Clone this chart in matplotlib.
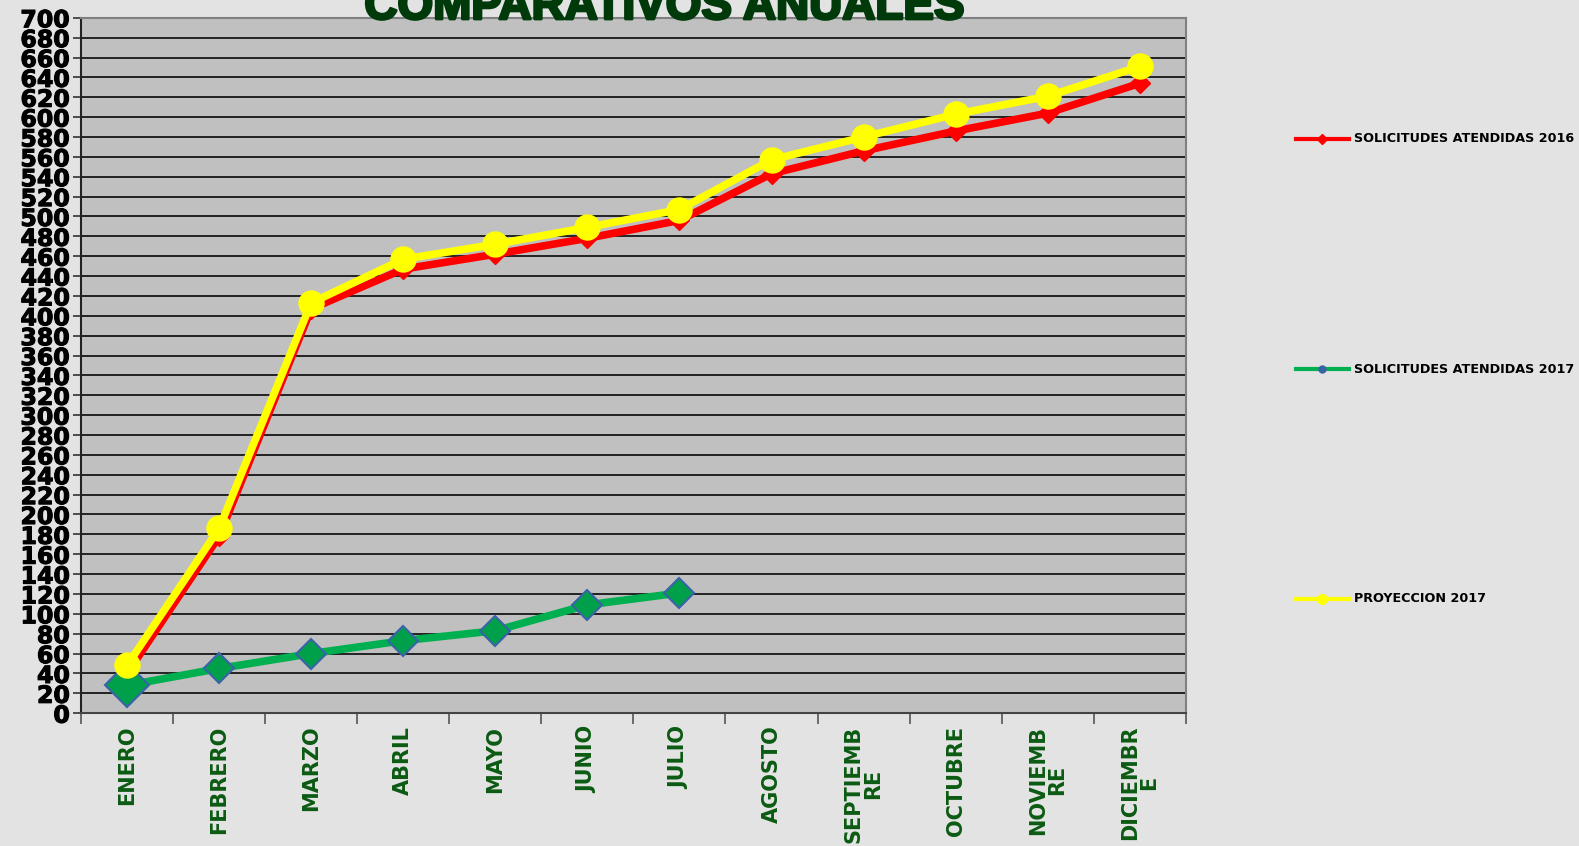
import numpy as np
import matplotlib
matplotlib.use("Agg")
import matplotlib.pyplot as plt
from matplotlib.lines import Line2D
import matplotlib.patheffects as pe

# Monthly data
meses = ["ENERO", "FEBRERO", "MARZO", "ABRIL", "MAYO", "JUNIO", "JULIO",
         "AGOSTO", "SEPTIEMB\nRE", "OCTUBRE", "NOVIEMB\nRE", "DICIEMBR\nE"]
atendidas_2016 = [40, 178, 407, 447, 462, 478, 496, 543, 566, 586, 604, 634]
atendidas_2017 = [28, 45, 60, 73, 83, 109, 121]
proyeccion_2017 = [48, 186, 413, 457, 472, 489, 507, 557, 580, 603, 621, 651]

serie_nombres = ["SOLICITUDES ATENDIDAS 2016", "SOLICITUDES ATENDIDAS 2017", "PROYECCION 2017"]
y_ticks = list(range(0, 701, 20))

fig = plt.figure(figsize=(15.79, 8.46), dpi=100)
fig.patch.set_facecolor("#e3e3e3")
ax = fig.add_axes([0.0513, 0.157, 0.6997, 0.822])
ax.set_facecolor("#c0c0c0")

x = np.arange(len(meses))
ax.plot(x, atendidas_2016, color="#ff0000", lw=5.5, marker="D", ms=10,
        mfc="#ff0000", mec="#ff0000", zorder=3)
x17 = np.arange(len(atendidas_2017))
ax.plot(x17, atendidas_2017, color="#00b050", lw=5.5, marker="D", ms=15,
        mfc="#00a04a", mec="#3a62a8", mew=1.5, zorder=4)
# first 2017 marker is drawn bigger in the original
ax.plot(x17[:1], atendidas_2017[:1], ls="none", marker="D", ms=22,
        mfc="#00a04a", mec="#3a62a8", mew=1.5, zorder=4)
ax.plot(x, proyeccion_2017, color="#ffff00", lw=5.5, marker="o", ms=18,
        mfc="#ffff00", mec="#ffff00", zorder=5)

ax.set_xlim(-0.5, len(meses) - 0.5)
ax.set_ylim(0, 700)
ax.set_yticks(y_ticks)
ax.set_yticklabels([str(v) for v in y_ticks], fontsize=17, fontweight="bold",
                   family="DejaVu Sans")
for t in ax.get_yticklabels():
    t.set_path_effects([pe.withStroke(linewidth=0.8, foreground="black")])
ax.yaxis.grid(True, color="#222222", lw=1.4)
ax.set_axisbelow(True)
ax.tick_params(axis="y", length=6, width=1.2, pad=2, color="#333333")

ax.set_xticks(x)
ax.set_xticklabels(meses, rotation=90, fontsize=15, fontweight="bold",
                   color="#0b5a12", family="DejaVu Sans", linespacing=0.95)
ax.set_xticks(np.arange(-0.5, len(meses), 1), minor=True)
ax.tick_params(axis="x", which="major", length=0, pad=9)
ax.tick_params(axis="x", which="minor", length=8, width=1.2, color="#555555")

for s in ax.spines.values():
    s.set_color("#808080")
    s.set_linewidth(1.5)
ax.spines["left"].set_color("#222222")
ax.spines["bottom"].set_color("#444444")

fig.text(0.421, 1 - 19 / 846, "COMPARATIVOS ANUALES", ha="center", va="baseline",
         fontsize=33, fontweight="bold", color="#003a0a", family="Liberation Sans",
         path_effects=[pe.withStroke(linewidth=2, foreground="#003a0a")])

# legend on the right, spread out like the original
leg_y = [1 - 139 / 846, 1 - 369 / 846, 1 - 599 / 846]
leg_style = [
    dict(color="#ff0000", marker="D", ms=5, mfc="#ff0000", mec="#ff0000"),
    dict(color="#00b050", marker="o", ms=5, mfc="#3a62a8", mec="#3a62a8"),
    dict(color="#ffff00", marker="o", ms=7, mfc="#ffff00", mec="#ffff00"),
]
for yy, nombre, st in zip(leg_y, serie_nombres, leg_style):
    fig.add_artist(Line2D([1296 / 1579, 1349 / 1579], [yy, yy], lw=3, color=st["color"]))
    fig.add_artist(Line2D([1322 / 1579], [yy], ls="none", marker=st["marker"], ms=st["ms"],
                          mfc=st["mfc"], mec=st["mec"]))
    fig.text(1354 / 1579, yy, nombre, ha="left", va="center", fontsize=9.2,
             fontweight="bold", color="black", family="DejaVu Sans")

fig.savefig("out.png", dpi=100, facecolor=fig.get_facecolor())
